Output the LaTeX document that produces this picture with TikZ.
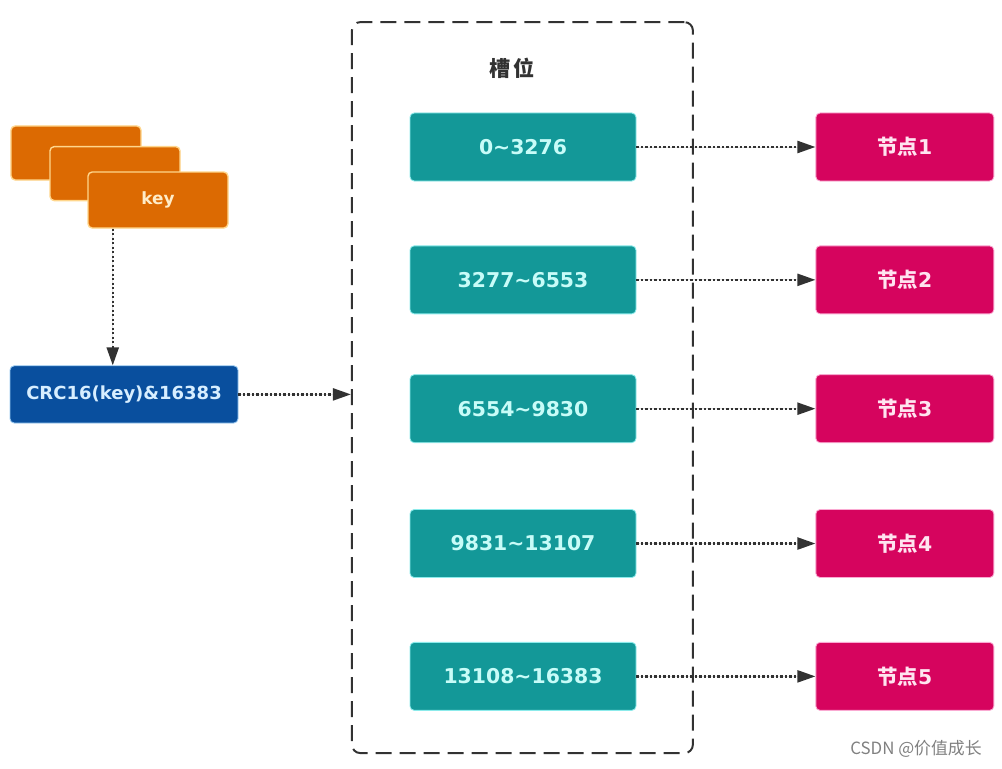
\documentclass[tikz,border=0pt]{standalone}
\usepackage{fontspec}
\setmainfont{DejaVu Sans}
\newfontfamily\cjk{Noto Sans CJK SC}
\usetikzlibrary{arrows.meta,positioning,calc}
\definecolor{keyorange}{RGB}{220,106,2}
\definecolor{keyedge}{RGB}{255,214,140}
\definecolor{keytext}{RGB}{255,236,200}
\definecolor{crcblue}{RGB}{9,79,158}
\definecolor{crcedge}{RGB}{150,200,240}
\definecolor{crctext}{RGB}{215,238,255}
\definecolor{slotteal}{RGB}{19,152,152}
\definecolor{slotedge}{RGB}{140,235,235}
\definecolor{slottext}{RGB}{200,252,248}
\definecolor{nodepink}{RGB}{214,4,94}
\definecolor{nodeedge}{RGB}{250,170,210}
\definecolor{nodetext}{RGB}{255,228,240}
\definecolor{linegray}{RGB}{50,50,50}

\begin{document}
\begin{tikzpicture}[
    node distance=1.6cm,
    box/.style={rectangle, rounded corners=3pt, inner sep=0pt, minimum height=1.7cm, line width=0.6pt,
        font=\fontsize{14.5}{17}\selectfont\bfseries},
    keybox/.style={box, fill=keyorange, draw=keyedge, line width=1pt, text=keytext, minimum width=3.25cm, minimum height=1.35cm,
        font=\fontsize{12}{14}\selectfont\bfseries},
    crcbox/.style={box, fill=crcblue, draw=crcedge, text=crctext, minimum width=5.7cm, minimum height=1.43cm,
        font=\fontsize{12.8}{15}\selectfont\bfseries},
    slot/.style={box, fill=slotteal, draw=slotedge, text=slottext, minimum width=5.65cm},
    server/.style={box, fill=nodepink, draw=nodeedge, text=nodetext, minimum width=4.45cm},
    flow/.style={-{Triangle[length=0.45cm, width=0.3cm]}, draw=linegray, fill=linegray, line width=1.6pt, dash pattern=on 1.6pt off 1.6pt}
]
    \useasboundingbox (0,0) rectangle (25.05,-19.225);

    % Key stack
    \node[keybox] (key1) at (1.9,-3.825) {};
    \node[keybox] (key2) at (2.875,-4.34) {};
    \node[keybox, minimum width=3.5cm, minimum height=1.4cm] (key) at (3.95,-5.0) {key};

    % Hash
    \node[crcbox] (crc) at (3.1,-9.86) {CRC16(key)\&16383};
    \coordinate (drop) at ($(key.south west)!0.18!(key.south east)$);
    \draw[flow] (drop) -- (drop |- crc.north);

    % Slot container
    \node[draw=linegray, line width=1.4pt, dash pattern=on 0.4cm off 0.2cm, rounded corners=6pt,
        minimum width=8.525cm, minimum height=18.275cm] (slots) at (13.06,-9.69) {};
    \node[text=linegray, font=\cjk\fontsize{15}{18}\selectfont\bfseries] (title) at (12.8,-1.7) {槽\,位};
    \draw[flow] (crc) -- (crc -| slots.west);

    % Slot ranges
    \node[slot] (s1) at (13.075,-3.675) {0\textasciitilde3276};
    \node[slot, below=of s1] (s2) {3277\textasciitilde6553};
    \node[slot, below=1.5cm of s2] (s3) {6554\textasciitilde9830};
    \node[slot, below=1.65cm of s3] (s4) {9831\textasciitilde13107};
    \node[slot, below=of s4] (s5) {13108\textasciitilde16383};

    % Cluster nodes
    \foreach \i in {1,...,5} {
        \node[server, right=4.475cm of s\i] (n\i) {{\cjk 节点}\i};
        \draw[flow] (s\i) -- (n\i);
    }

    \node[text=gray, font=\cjk\fontsize{12}{14}\selectfont] (mark) at (22.9,-18.72) {CSDN @价值成长};
\end{tikzpicture}
\end{document}
